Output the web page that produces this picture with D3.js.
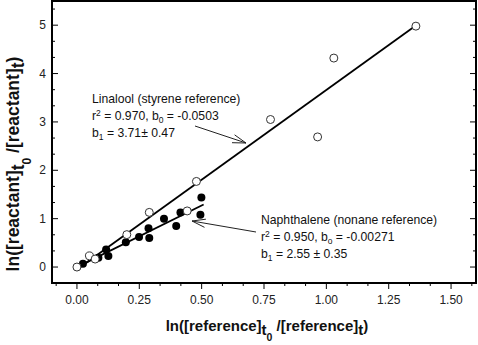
<!DOCTYPE html>
<html><head><meta charset="utf-8">
<script src="https://cdn.jsdelivr.net/npm/d3@7"></script>
<style>
body{margin:0;background:#fff;}
svg{display:block;font-family:"Liberation Sans",Arial,sans-serif;}
</style></head>
<body><svg id="c" width="478" height="345"></svg>
<script>
// Data
const linaloolX = [0, 0.05, 0.073, 0.2, 0.29, 0.442, 0.479, 0.776, 0.965, 1.03, 1.359];
const linaloolY = [0, 0.23, 0.165, 0.67, 1.13, 1.16, 1.77, 3.05, 2.69, 4.32, 4.98];
const naphX = [0.024, 0.086, 0.117, 0.126, 0.196, 0.249, 0.287, 0.29, 0.349, 0.398, 0.415, 0.495, 0.499];
const naphY = [0.068, 0.19, 0.36, 0.23, 0.51, 0.62, 0.80, 0.60, 1.0, 0.85, 1.13, 1.08, 1.44];
// regression fits [b0, b1, xStart, xEnd]
const linaloolFit = [-0.0503, 3.71, 0, 1.359];
const naphFit = [-0.00271, 2.55, 0, 0.508];
const xTicks = [0, 0.25, 0.5, 0.75, 1.0, 1.25, 1.5];
const xTickLabels = ["0.00","0.25","0.50","0.75","1.00","1.25","1.50"];
const yTicks = [0,1,2,3,4,5];
const yTickLabels = ["0","1","2","3","4","5"];

const svg = d3.select("#c");
const L = 52, R = 476, T = 1, B = 283;
const x = d3.scaleLinear().domain([-0.1, 1.6]).range([L, R]);
const y = d3.scaleLinear().domain([-0.33, 5.5]).range([B, T]);

// minor ticks
const xMinor = d3.range(-1, 20).map(i => i/12).filter(v => v > -0.1 && v < 1.6 && Math.abs(v*4 - Math.round(v*4)) > 1e-6);
const yMinor = d3.range(-1, 17).map(i => i/3).filter(v => v > -0.33 && v < 5.5 && Math.abs(v - Math.round(v)) > 1e-6);

const g = svg.append("g");
// bottom axis (outward ticks)
g.selectAll(".xmaj").data(xTicks).join("line")
  .attr("x1", d => x(d)).attr("x2", d => x(d)).attr("y1", B).attr("y2", B + 6)
  .attr("stroke", "#000").attr("stroke-width", 1);
g.selectAll(".xmin").data(xMinor).join("line")
  .attr("x1", d => x(d)).attr("x2", d => x(d)).attr("y1", B).attr("y2", B + 3)
  .attr("stroke", "#000").attr("stroke-width", 1);
g.selectAll(".xl").data(xTicks).join("text")
  .attr("x", d => x(d)).attr("y", 304).attr("text-anchor", "middle")
  .attr("font-size", 12).attr("fill", "#222").text((d, i) => xTickLabels[i]);
// left axis (inward ticks)
g.selectAll(".ymaj").data(yTicks).join("line")
  .attr("x1", L).attr("x2", L + 6).attr("y1", d => y(d)).attr("y2", d => y(d))
  .attr("stroke", "#000").attr("stroke-width", 1);
g.selectAll(".ymin").data(yMinor).join("line")
  .attr("x1", L).attr("x2", L + 3).attr("y1", d => y(d)).attr("y2", d => y(d))
  .attr("stroke", "#000").attr("stroke-width", 1);
// right axis (inward ticks)
g.selectAll(".ymajr").data(yTicks).join("line")
  .attr("x1", R).attr("x2", R - 6).attr("y1", d => y(d)).attr("y2", d => y(d))
  .attr("stroke", "#000").attr("stroke-width", 1);
g.selectAll(".yminr").data(yMinor).join("line")
  .attr("x1", R).attr("x2", R - 3).attr("y1", d => y(d)).attr("y2", d => y(d))
  .attr("stroke", "#000").attr("stroke-width", 1);
g.selectAll(".yl").data(yTicks).join("text")
  .attr("x", 46).attr("y", d => y(d) + 4).attr("text-anchor", "end")
  .attr("font-size", 12).attr("fill", "#222").text((d, i) => yTickLabels[i]);

// frame
svg.append("rect").attr("x", L).attr("y", T).attr("width", R - L).attr("height", B - T)
  .attr("fill", "none").attr("stroke", "#000").attr("stroke-width", 2);

// fit lines
[linaloolFit, naphFit].forEach(f => {
  svg.append("line")
    .attr("x1", x(f[2])).attr("y1", y(f[0] + f[1]*f[2]))
    .attr("x2", x(f[3])).attr("y2", y(f[0] + f[1]*f[3]))
    .attr("stroke", "#000").attr("stroke-width", 1.8);
});

// points
svg.selectAll(".np").data(naphX).join("circle")
  .attr("cx", d => x(d)).attr("cy", (d, i) => y(naphY[i])).attr("r", 4)
  .attr("fill", "#000");
svg.selectAll(".lp").data(linaloolX).join("circle")
  .attr("cx", d => x(d)).attr("cy", (d, i) => y(linaloolY[i])).attr("r", 4)
  .attr("fill", "#fff").attr("stroke", "#333").attr("stroke-width", 1);

// annotations
function ann(x0, y0, lines) {
  const t = svg.append("text").attr("font-size", 12.2).attr("fill", "#111");
  lines.forEach((parts, li) => {
    let first = true;
    parts.forEach(p => {
      const s = t.append("tspan").text(p[0]);
      if (first) { s.attr("x", x0).attr("y", y0 + li*17); first = false; }
      if (p[1] === "sup") s.attr("dy", -4).attr("font-size", 8.5);
      if (p[1] === "sub") s.attr("dy", 3).attr("font-size", 8.5);
      if (p[1] === "back") s.attr("dy", 4);
      if (p[1] === "up") s.attr("dy", -3);
    });
  });
}
ann(92, 103, [
  [["Linalool (styrene reference)"]],
  [["r"], ["2", "sup"], [" = 0.970, b", "back"], ["0", "sub"], [" = -0.0503", "up"]],
  [["b"], ["1", "sub"], [" = 3.71± 0.47", "up"]]
]);
ann(261, 224, [
  [["Naphthalene (nonane reference)"]],
  [["r"], ["2", "sup"], [" = 0.950, b", "back"], ["o", "sub"], [" = -0.00271", "up"]],
  [["b"], ["1", "sub"], [" = 2.55 ± 0.35", "up"]]
]);

// arrows (open arrowheads)
function arrow(x1, y1, x2, y2) {
  svg.append("line").attr("x1", x1).attr("y1", y1).attr("x2", x2).attr("y2", y2)
    .attr("stroke", "#222").attr("stroke-width", 1);
  const a = Math.atan2(y2 - y1, x2 - x1), len = 14, sp = 0.3;
  [a + Math.PI - sp, a + Math.PI + sp].forEach(b => {
    svg.append("line").attr("x1", x2).attr("y1", y2)
      .attr("x2", x2 + len*Math.cos(b)).attr("y2", y2 + len*Math.sin(b))
      .attr("stroke", "#222").attr("stroke-width", 1);
  });
}
arrow(195, 126, 246, 143);
arrow(256, 232, 192, 221);

// axis titles
const xt = svg.append("text").attr("x", 267).attr("y", 331).attr("text-anchor", "middle")
  .attr("font-size", 15).attr("font-weight", "bold").attr("fill", "#111");
xt.append("tspan").text("ln([reference]");
xt.append("tspan").text("t").attr("dy", 4);
xt.append("tspan").text("0").attr("dy", 6).attr("font-size", 10.5);
xt.append("tspan").text(" /[reference]").attr("dy", -10);
xt.append("tspan").text("t").attr("dy", 4);
xt.append("tspan").text(")").attr("dy", -4);

const yt = svg.append("text").attr("transform", "translate(19,164) rotate(-90)")
  .attr("text-anchor", "middle").attr("font-size", 17.5).attr("font-weight", "bold").attr("fill", "#111");
yt.append("tspan").text("ln([reactant]");
yt.append("tspan").text("t").attr("dy", 5);
yt.append("tspan").text("0").attr("dy", 7).attr("font-size", 12);
yt.append("tspan").text(" /[reactant]").attr("dy", -12);
yt.append("tspan").text("t").attr("dy", 5);
yt.append("tspan").text(")").attr("dy", -5);
</script></body></html>
